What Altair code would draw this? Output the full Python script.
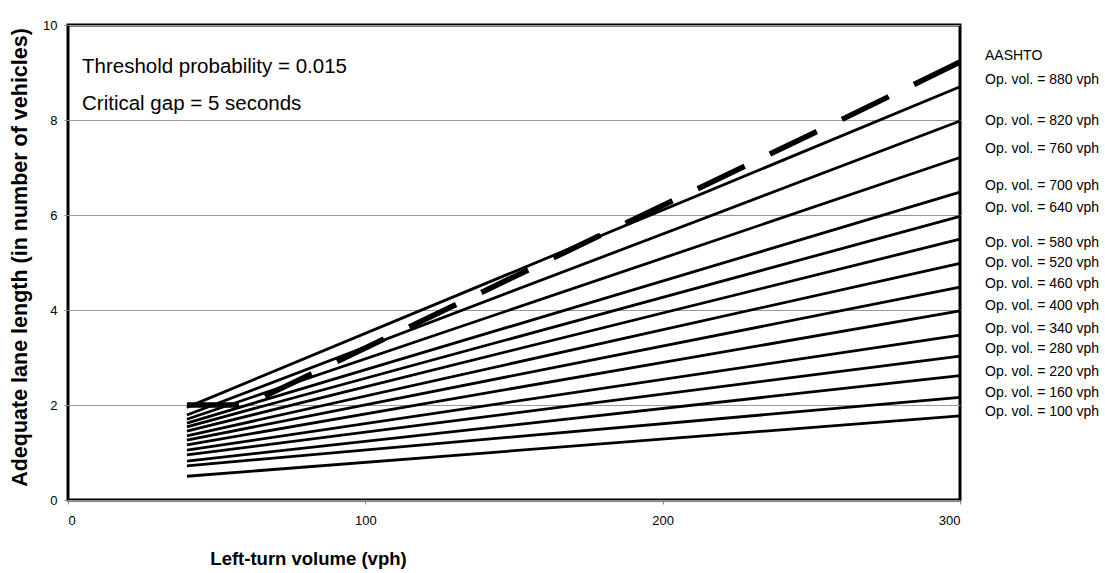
import altair as alt
import pandas as pd

# Operating volumes (vph) for the solid curves
op_vols = [100, 160, 220, 280, 340, 400, 460, 520, 580, 640, 700, 760, 820, 880]
x_points = [40, 300]
start_vals = [0.50, 0.72, 0.82, 0.95, 1.05, 1.16, 1.26, 1.35, 1.45, 1.54, 1.62, 1.70, 1.79, 1.95]
end_vals = [1.77, 2.16, 2.62, 3.03, 3.47, 3.98, 4.48, 4.98, 5.49, 5.97, 6.48, 7.21, 7.98, 8.70]

# AASHTO dashed curve
aashto_x = [40, 60, 100, 150, 200, 250, 300]
aashto_y = [2.0, 2.0, 3.2, 4.7, 6.2, 7.7, 9.22]

# Right-hand labels and their vertical placement (data units)
label_texts = ["AASHTO"] + [f"Op. vol. = {v} vph" for v in reversed(op_vols)]
label_y = [9.35, 8.84, 7.98, 7.38, 6.62, 6.15, 5.42, 4.98, 4.54, 4.08, 3.59, 3.17, 2.69, 2.25, 1.85]

rows = []
for v, s, e in zip(op_vols, start_vals, end_vals):
    rows.append({"series": f"{v}", "x": x_points[0], "y": s})
    rows.append({"series": f"{v}", "x": x_points[1], "y": e})
lines_df = pd.DataFrame(rows)
aashto_df = pd.DataFrame({"x": aashto_x, "y": aashto_y})
labels_df = pd.DataFrame({"label": label_texts, "y": label_y})

FONT = "Liberation Sans"

x_scale = alt.Scale(domain=[0, 300], nice=False)
y_scale = alt.Scale(domain=[0, 10], nice=False)

x_axis = alt.Axis(
    values=[0, 100, 200, 300], title="Left-turn volume (vph)", grid=False,
    domain=False, tickSize=4, tickColor="#888888", labelFontSize=13,
    labelColor="black", labelPadding=10, labelFont=FONT,
    titleFont=FONT, titleFontSize=18.5, titleFontWeight="bold", titleColor="black",
    titleX=240, titleY=64, titleAlign="center", titleBaseline="alphabetic",
)
y_axis = alt.Axis(
    values=[0, 2, 4, 6, 8, 10], title="Adequate lane length (in number of vehicles)",
    grid=True, gridColor="#999999", gridWidth=1, domain=False, tickSize=4,
    tickColor="#888888", labelFontSize=13, labelColor="black", labelPadding=7,
    labelFont=FONT, titleFont=FONT, titleFontSize=21.5, titleFontWeight="bold",
    titleColor="black", titleAngle=270, titleX=-42, titleY=232,
    titleAlign="center", titleBaseline="alphabetic",
)

solid = alt.Chart(lines_df).mark_line(color="black", strokeWidth=2.8).encode(
    x=alt.X("x:Q", scale=x_scale, axis=x_axis),
    y=alt.Y("y:Q", scale=y_scale, axis=y_axis),
    detail="series:N",
)

dashed = alt.Chart(aashto_df).mark_line(
    color="black", strokeWidth=5.5, strokeDash=[52, 28]
).encode(
    x=alt.X("x:Q", scale=x_scale),
    y=alt.Y("y:Q", scale=y_scale),
)

right_labels = alt.Chart(labels_df).mark_text(
    align="left", baseline="middle", fontSize=14, font=FONT, color="black", clip=False
).encode(
    x=alt.value(917),
    y=alt.Y("y:Q", scale=y_scale),
    text="label:N",
)

ann_df = pd.DataFrame({"t": ["Threshold probability = 0.015", "Critical gap = 5 seconds"],
                       "py": [42, 79]})
annot = alt.Chart(ann_df).mark_text(
    align="left", baseline="middle", fontSize=20.5, font=FONT, color="black"
).encode(
    x=alt.value(14),
    y=alt.Y("py:Q", scale=None),
    text="t:N",
)

chart = alt.layer(solid, dashed, right_labels, annot).properties(
    width=892, height=475,
    autosize=alt.AutoSizeParams(type="none"),
    padding={"left": 68, "top": 25, "right": 145, "bottom": 73},
    background="white",
).configure_view(stroke="black", strokeWidth=3)

chart.save("out.html", embed_options={"renderer": "svg", "actions": False})
